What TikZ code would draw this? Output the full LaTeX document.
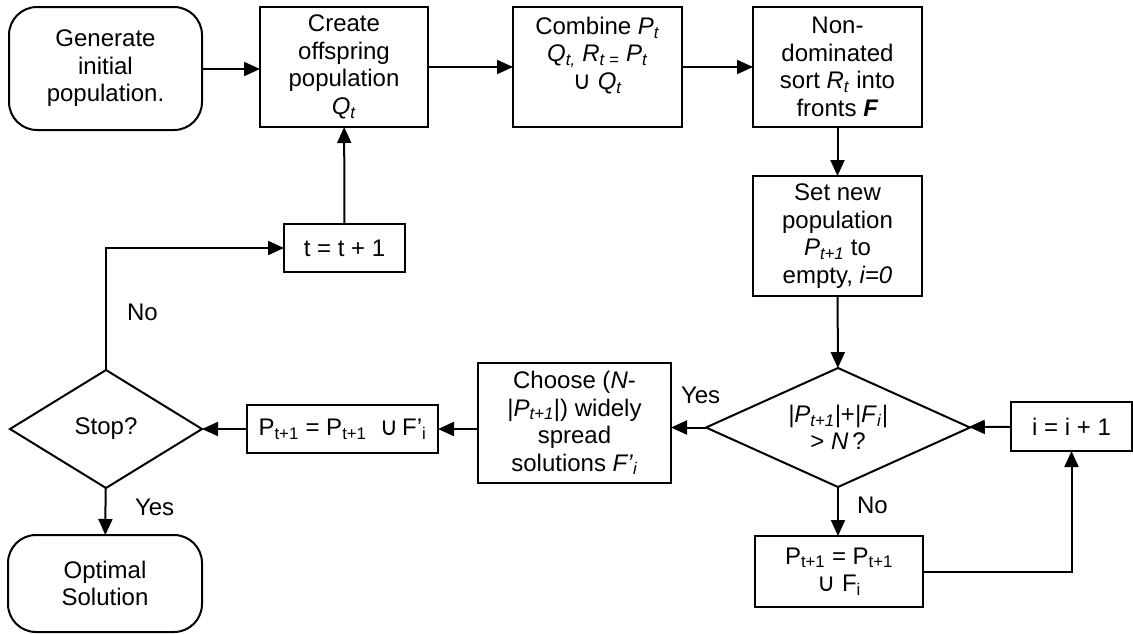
\documentclass[tikz,border=0pt]{standalone}
\usepackage{fontspec}
\setmainfont{Liberation Sans}
\newfontfamily\symfnt{DejaVu Sans}
\usetikzlibrary{shapes.geometric,arrows.meta}

\newcommand{\vs}[2]{\textit{#1}\textsubscript{\textit{#2}}}
\newcommand{\us}[2]{#1\textsubscript{#2}}
\newcommand{\cupop}{{\symfnt\fontsize{25}{25}\selectfont ∪}}

\tikzset{
  box/.style={draw,rectangle,inner sep=0pt,outer sep=0pt,align=center},
  term/.style={box,rounded corners=28pt},
  decision/.style={draw,diamond,aspect=2,inner sep=0pt,outer sep=0pt,align=center},
  flow/.style={->},
  lbl/.style={inner sep=0pt}
}

\begin{document}
\begin{tikzpicture}[x=1pt,y=-1pt,line width=2pt,>={Triangle[length=16pt,width=14pt]},font=\fontsize{24}{27.5}\selectfont]
\useasboundingbox (0,0) rectangle (1133,633);

% top row
\node [term,minimum width=193,minimum height=123] (gen) at (105.5,68.5) {Generate\\initial\\population.};
\node [box,minimum width=168,minimum height=120] (offs) at (344,67) {Create\\offspring\\population\\\vs{Q}{t}};
\node [box,minimum width=169,minimum height=120] (comb) at (597.5,67) {Combine \vs{P}{t}\\\vs{Q}{t,} \vs{R}{t =} \vs{P}{t}\\\cupop\ \vs{Q}{t}\\\mbox{}};
\node [box,minimum width=169,minimum height=120] (sort) at (837.5,67) {Non-\\dominated\\sort \vs{R}{t} into\\fronts \textbf{\textit{F}}};

% right column
\node [box,minimum width=169,minimum height=120] (empty) at (837.5,236) {Set new\\population\\\vs{P}{t+1} to\\empty, \textit{i=0}};
\node [decision,minimum width=264,minimum height=119] (full) at (838,427.5) {\textit{|P}\textsubscript{\textit{t+1}}\textit{|}+\textit{|F}\textsubscript{\textit{i}}\textit{|}\\> \textit{N}\,?};
\node [box,minimum width=121,minimum height=49] (inc) at (1071.5,426.5) {i = i + 1};
\node [box,minimum width=168,minimum height=71] (addf) at (839,571.5) {\us{P}{t+1} = \us{P}{t+1}\\\cupop\ \us{F}{i}};

% bottom row
\node [box,minimum width=193,minimum height=120] (choose) at (574.5,423) {Choose (\textit{N}-\\|\vs{P}{t+1}|) widely\\spread\\solutions \textit{F’}\textsubscript{\textit{i}}};
\node [box,minimum width=191,minimum height=48] (addc) at (342.5,429) {\us{P}{t+1} = \us{P}{t+1}\ \ \cupop\,F’\textsubscript{i}};
\node [decision,aspect=1.6,minimum width=192,minimum height=118] (stop) at (106,429) {Stop?};
\node [term,minimum width=194,minimum height=97] (opt) at (105,583.5) {Optimal\\Solution};
\node [box,minimum width=121,minimum height=48] (tinc) at (344.5,248) {t = t + 1};

% labels
\node [lbl,anchor=west] (yes1) at (680,395) {Yes};
\node [lbl,anchor=west] (no1) at (856,505) {No};
\node [lbl,anchor=west] (no2) at (126,312) {No};
\node [lbl,anchor=west] (yes2) at (134,507) {Yes};

% connectors
\draw [flow] (gen.east |- 0,69) -- (offs.west |- 0,69);
\draw [flow] (offs) -- (comb);
\draw [flow] (comb) -- (sort);
\draw [flow] (sort) -- (empty);
\draw [flow] (empty) -- (full);
\draw [flow] (inc) -- (full);
\draw [flow] (full) -- (full.west -| choose.east);
\draw [flow] (choose.west |- addc) -- (addc);
\draw [flow] (addc) -- (stop);
\draw [flow] (stop) -- (opt);
\draw [flow] (stop.north) |- (tinc.west);
\draw [flow] (tinc) -- (offs);
\draw [flow] (full) -- (addf.north -| full);
\draw [flow] (addf.east) -| (inc.south);
\end{tikzpicture}
\end{document}
